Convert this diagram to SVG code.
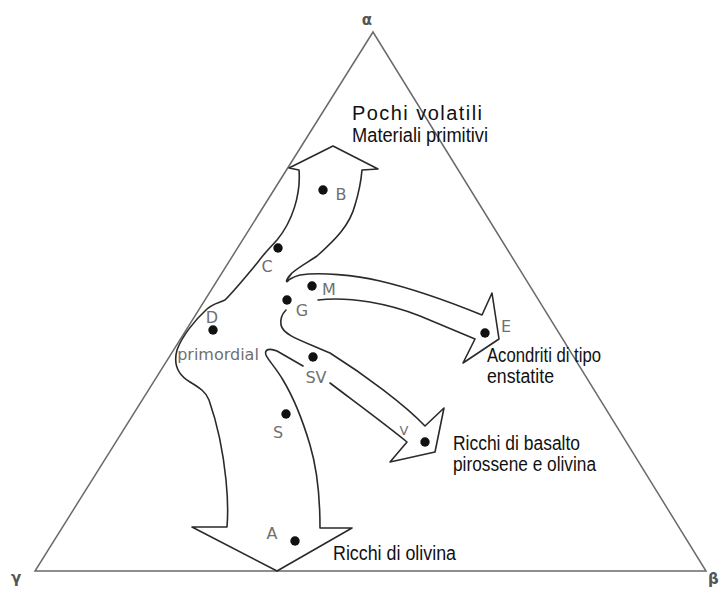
<svg xmlns="http://www.w3.org/2000/svg" width="719" height="590" viewBox="0 0 719 590">
<style>
.tri{fill:none;stroke:#6a6a6a;stroke-width:1.5}
.out{fill:none;stroke:#2a2a2a;stroke-width:1.6;stroke-linejoin:round;stroke-linecap:round}
.dot{fill:#111}
.lab{font-family:"DejaVu Sans",sans-serif;font-size:16px;fill:#707070;text-anchor:middle}
.txt{font-family:"Liberation Sans",Arial,sans-serif;font-size:20px;fill:#111}
.gr{font-family:"DejaVu Sans",sans-serif;font-size:15px;font-weight:bold;fill:#555}
</style>
<rect width="719" height="590" fill="#fff"/>
<g id="triangle">
<polygon class="tri" points="373,32 35,571 706,571"/>
<text class="gr" x="367" y="25" text-anchor="middle">α</text>
<text class="gr" x="16" y="583" text-anchor="middle">γ</text>
<text class="gr" x="708" y="584">β</text>
</g>
<g id="connectors">
<path class="out" d="M 318,300 C 350,296 390,304 420,316 L 475,339 L 463,363 L 499,339 L 492,293 L 482,315 C 450,302 410,288 380,281 C 355,275 320,272 300,275 C 292,277 287,281 288,281 C 286,283 285,280 292,273 C 300,266 310,261 317,256 C 335,240 350,225 355,205 C 359,192 361,182 362,170 L 378,169 L 333,146 L 289,168 L 299,170 C 301,195 292,222 277,240 C 268,250 262,256 258,262 C 248,274 235,290 225,300 C 218,303 212,304 207,309 C 195,320 182,336 177,350 C 173,365 178,375 190,382 C 200,388 206,392 209,400 C 216,420 223,450 226,480 C 228,500 228,515 227,527 L 192,527 L 277,571 L 352,528 L 320,528 C 320,495 316,465 310,445 C 302,418 292,395 283,380 C 276,368 268,360 266,355 C 264,349 270,348 277,351 L 303,366"/>
<path class="out" d="M 330,383 C 355,402 385,424 407,442 L 390,462 L 435,452 L 444,408 L 425,426 C 405,405 365,375 330,353 C 300,340 283,335 281,325 C 280,318 283,313 286,310"/>
</g>
<g id="node-B"><circle class="dot" cx="323" cy="190" r="4.7"/><text class="lab" x="341" y="200">B</text></g>
<g id="node-C"><circle class="dot" cx="278" cy="248" r="4.7"/><text class="lab" x="267" y="272">C</text></g>
<g id="node-D"><circle class="dot" cx="213" cy="330" r="4.7"/><text class="lab" x="212" y="323">D</text></g>
<g id="node-M"><circle class="dot" cx="312" cy="286" r="4.7"/><text class="lab" x="329" y="295">M</text></g>
<g id="node-G"><circle class="dot" cx="287" cy="300" r="4.7"/><text class="lab" x="302" y="316">G</text></g>
<g id="node-SV"><circle class="dot" cx="313" cy="357" r="4.7"/><text class="lab" x="316" y="383">SV</text></g>
<g id="node-primordial"><text class="lab" x="218" y="360">primordial</text></g>
<g id="node-S"><circle class="dot" cx="286" cy="414" r="4.7"/><text class="lab" x="278" y="438">S</text></g>
<g id="node-A"><circle class="dot" cx="295" cy="541" r="4.7"/><text class="lab" x="272" y="539">A</text></g>
<g id="node-E"><circle class="dot" cx="485" cy="333" r="4.7"/><text class="lab" x="506" y="332">E</text></g>
<g id="node-V"><circle class="dot" cx="425" cy="442" r="4.7"/><text class="lab" x="404" y="435" style="font-size:13px">V</text></g>
<g id="label-top">
<text class="txt" x="352" y="120" textLength="130" lengthAdjust="spacing">Pochi volatili</text>
<text class="txt" x="352" y="142" textLength="136" lengthAdjust="spacingAndGlyphs">Materiali primitivi</text>
</g>
<g id="label-E">
<text class="txt" x="487" y="362" textLength="114" lengthAdjust="spacingAndGlyphs">Acondriti di tipo</text>
<text class="txt" x="487" y="383" textLength="67" lengthAdjust="spacingAndGlyphs">enstatite</text>
</g>
<g id="label-V">
<text class="txt" x="453" y="450" textLength="127" lengthAdjust="spacingAndGlyphs">Ricchi di basalto</text>
<text class="txt" x="453" y="471" textLength="143" lengthAdjust="spacingAndGlyphs">pirossene e olivina</text>
</g>
<g id="label-A">
<text class="txt" x="333" y="560" textLength="123" lengthAdjust="spacingAndGlyphs">Ricchi di olivina</text>
</g>
</svg>
